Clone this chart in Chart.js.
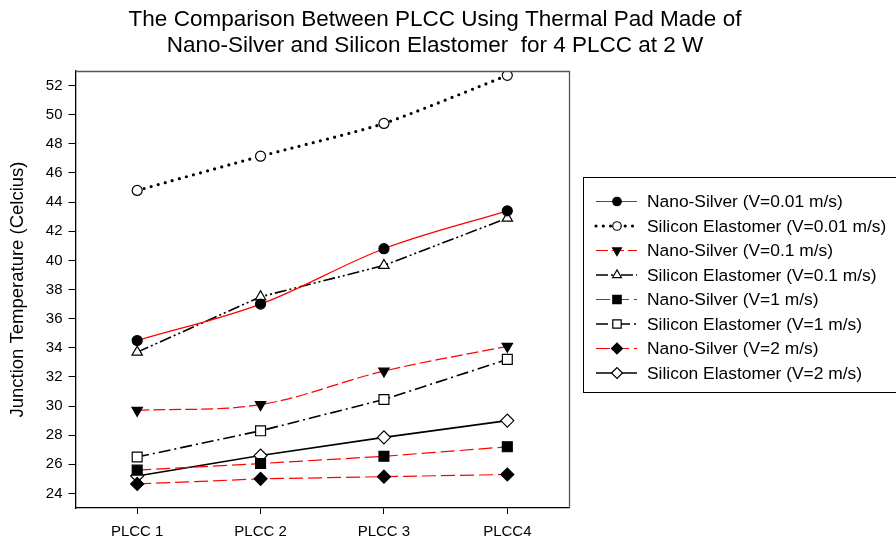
<!DOCTYPE html>
<html>
<head>
<meta charset="utf-8">
<script src="https://cdn.jsdelivr.net/npm/chart.js@4.4.1/dist/chart.umd.min.js"></script>
<style>
  html, body { margin: 0; padding: 0; background: #fff; }
  #wrap { width: 896px; height: 546px; position: relative; }
</style>
</head>
<body>
<div id="wrap"><canvas id="c" width="896" height="546"></canvas></div>
<script>
// Packages along the x axis
const categories = ['PLCC 1', 'PLCC 2', 'PLCC 3', 'PLCC4'];

// Junction temperature (°C) for each pad material and air velocity
const nanoSilver001 = [34.5, 37.0, 40.8, 43.4];
const silicon001    = [44.8, 47.15, 49.4, 52.7];
const nanoSilver01  = [29.7, 30.1, 32.4, 34.1];
const silicon01     = [33.7, 37.5, 39.65, 42.9];
const nanoSilver1   = [25.6, 26.05, 26.55, 27.2];
const silicon1      = [26.5, 28.3, 30.45, 33.2];
const nanoSilver2   = [24.65, 25.0, 25.15, 25.3];
const silicon2      = [25.2, 26.6, 27.85, 29.0];

// Y axis tick values
const yTicks = [24, 26, 28, 30, 32, 34, 36, 38, 40, 42, 44, 46, 48, 50, 52];

const titleLines = [
  'The Comparison Between PLCC Using Thermal Pad Made of',
  'Nano-Silver and Silicon Elastomer  for 4 PLCC at 2 W'
];
const yTitle = 'Junction Temperature (Celcius)';

const RED = '#ff0000';
const BLACK = '#000000';
const FONT = '"Liberation Sans", Arial, sans-serif';

function series(label, data, color, width, dash, style, fill, radius, rotation, tension, cap) {
  return {
    label, data,
    borderColor: color,
    borderWidth: width,
    borderDash: dash,
    borderCapStyle: cap || 'butt',
    tension: tension,
    pointStyle: style,
    pointRadius: radius,
    pointHoverRadius: radius,
    pointRotation: rotation,
    pointBackgroundColor: fill,
    pointBorderColor: BLACK,
    pointBorderWidth: 1.2,
    fill: false
  };
}

const datasets = [
  series('Nano-Silver (V=0.01 m/s)', nanoSilver001, RED, 1.2, [], 'circle', BLACK, 5, 0, 0.35),
  series('Silicon Elastomer (V=0.01 m/s)', silicon001, BLACK, 3.2, [0, 7.3], 'circle', '#ffffff', 5, 0, 0.2, 'round'),
  series('Nano-Silver (V=0.1 m/s)', nanoSilver01, RED, 1.2, [12, 4], 'triangle', BLACK, 6, 180, 0.35),
  series('Silicon Elastomer (V=0.1 m/s)', silicon01, BLACK, 1.6, [12, 3, 2, 3, 2, 3], 'triangle', '#ffffff', 6, 0, 0),
  series('Nano-Silver (V=1 m/s)', nanoSilver1, RED, 1.2, [14, 5], 'rect', BLACK, 7, 0, 0),
  series('Silicon Elastomer (V=1 m/s)', silicon1, BLACK, 1.6, [12, 4, 2, 4], 'rect', '#ffffff', 7, 0, 0),
  series('Nano-Silver (V=2 m/s)', nanoSilver2, RED, 1.2, [14, 5], 'rectRot', BLACK, 6.5, 0, 0),
  series('Silicon Elastomer (V=2 m/s)', silicon2, BLACK, 1.6, [], 'rectRot', '#ffffff', 6.5, 0, 0)
];

// Frame, title and boxed legend drawn on the canvas
const decorations = {
  id: 'decorations',
  afterDraw(chart) {
    const ctx = chart.ctx;
    const a = chart.chartArea;
    ctx.save();

    // top and right frame lines
    ctx.strokeStyle = '#555555';
    ctx.lineWidth = 1.3;
    ctx.beginPath();
    ctx.moveTo(a.left, a.top + 0.5);
    ctx.lineTo(a.right + 0.5, a.top + 0.5);
    ctx.lineTo(a.right + 0.5, a.bottom);
    ctx.stroke();

    // title
    ctx.fillStyle = BLACK;
    ctx.font = '22.5px ' + FONT;
    ctx.textAlign = 'center';
    ctx.textBaseline = 'middle';
    ctx.fillText(titleLines[0], 435, 20);
    ctx.fillText(titleLines[1], 435, 46);

    // legend box
    ctx.strokeStyle = BLACK;
    ctx.lineWidth = 1;
    ctx.strokeRect(583.5, 177.5, 340, 215);

    ctx.font = '17.4px ' + FONT;
    ctx.textAlign = 'left';
    chart.data.datasets.forEach((ds, i) => {
      const y = 201.5 + i * 24.5;
      ctx.save();
      ctx.strokeStyle = ds.borderColor;
      ctx.lineWidth = ds.borderWidth;
      ctx.lineCap = ds.borderCapStyle;
      ctx.setLineDash(ds.borderDash);
      ctx.beginPath();
      ctx.moveTo(596, y);
      ctx.lineTo(637, y);
      ctx.stroke();
      ctx.restore();

      ctx.save();
      ctx.fillStyle = ds.pointBackgroundColor;
      ctx.strokeStyle = ds.pointBorderColor;
      ctx.lineWidth = ds.pointBorderWidth;
      Chart.helpers.drawPoint(ctx, {
        pointStyle: ds.pointStyle,
        rotation: ds.pointRotation,
        radius: ds.pointRadius * 0.85,
        borderWidth: ds.pointBorderWidth
      }, 617, y);
      ctx.restore();

      ctx.fillStyle = BLACK;
      ctx.fillText(ds.label, 647, y + 1);
    });
    ctx.restore();
  }
};

new Chart(document.getElementById('c'), {
  type: 'line',
  data: { labels: categories, datasets },
  options: {
    responsive: false,
    animation: false,
    devicePixelRatio: 1,
    layout: { padding: { top: 71, right: 327, bottom: 0, left: 0 } },
    plugins: {
      legend: { display: false },
      title: { display: false },
      tooltip: { enabled: false }
    },
    scales: {
      x: {
        type: 'category',
        offset: true,
        grid: {
          display: true,
          offset: false,
          drawOnChartArea: false,
          drawTicks: true,
          tickLength: 6,
          color: BLACK
        },
        border: { display: true, color: BLACK, width: 1.3 },
        ticks: {
          color: BLACK,
          font: { family: FONT, size: 15 },
          padding: 9,
          maxRotation: 0
        },
        afterFit(scale) { scale.height = 38; }
      },
      y: {
        min: 23,
        max: 53,
        grid: {
          display: true,
          drawOnChartArea: false,
          drawTicks: true,
          tickLength: 7,
          color: BLACK
        },
        border: { display: true, color: BLACK, width: 1.3 },
        ticks: {
          color: BLACK,
          font: { family: FONT, size: 15 },
          padding: 6
        },
        afterBuildTicks(scale) { scale.ticks = yTicks.map(v => ({ value: v })); },
        title: {
          display: true,
          text: yTitle,
          color: BLACK,
          font: { family: FONT, size: 18.5 },
          padding: { top: 7, bottom: 0 }
        },
        afterFit(scale) { scale.width = 75.5; }
      }
    }
  },
  plugins: [decorations]
});
</script>
</body>
</html>
